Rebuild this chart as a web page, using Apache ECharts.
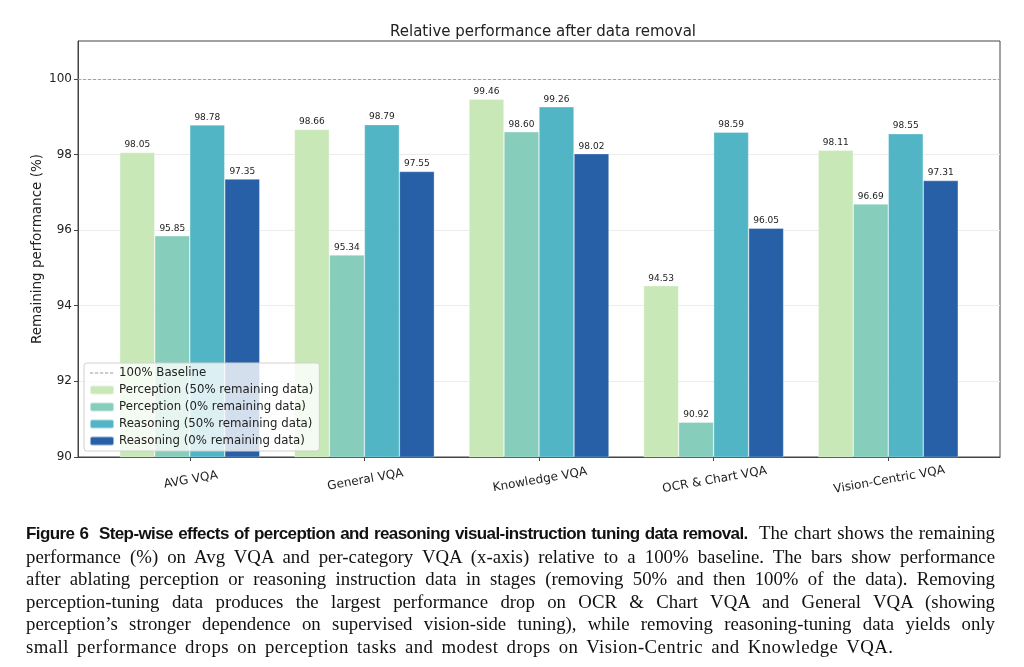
<!DOCTYPE html>
<html>
<head>
<meta charset="utf-8">
<script src="https://cdn.jsdelivr.net/npm/echarts@6/dist/echarts.min.js"></script>
<style>
  html, body { margin: 0; padding: 0; background: #fff; }
  #wrap { position: relative; width: 1024px; height: 667px; overflow: hidden; }
  #chart { position: absolute; left: 0; top: 0; width: 1024px; height: 667px; }
  #caption {
    position: absolute; left: 26px; top: 522px; width: 969px;
    font-family: "Liberation Serif", "DejaVu Serif", serif;
    font-size: 18.8px; line-height: 22.6px; color: #111;
  }
  #caption .ln { white-space: nowrap; text-align: justify; text-align-last: justify; }
  #caption .ln.last { text-align-last: left; letter-spacing: 0.45px; word-spacing: 3px; }
  #caption b {
    font-family: "Liberation Sans", sans-serif;
    font-weight: bold; font-size: 17px; letter-spacing: -0.6px;
  }
</style>
</head>
<body>
<div id="wrap">
  <div id="chart"></div>
  <div id="caption">
    <div class="ln"><b>Figure 6&nbsp;&nbsp;Step-wise effects of perception and reasoning visual-instruction tuning data removal.</b>&nbsp; The chart shows the remaining</div>
    <div class="ln">performance (%) on Avg VQA and per-category VQA (x-axis) relative to a 100% baseline. The bars show performance</div>
    <div class="ln">after ablating perception or reasoning instruction data in stages (removing 50% and then 100% of the data). Removing</div>
    <div class="ln">perception-tuning data produces the largest performance drop on OCR &amp; Chart VQA and General VQA (showing</div>
    <div class="ln">perception’s stronger dependence on supervised vision-side tuning), while removing reasoning-tuning data yields only</div>
    <div class="ln last">small performance drops on perception tasks and modest drops on Vision-Centric and Knowledge VQA.</div>
  </div>
</div>
<script>
// 数据
const categories = ['AVG VQA', 'General VQA', 'Knowledge VQA', 'OCR & Chart VQA', 'Vision-Centric VQA'];
const perception50 = [98.05, 98.66, 99.46, 94.53, 98.11];
const perception0 = [95.85, 95.34, 98.60, 90.92, 96.69];
const reasoning50 = [98.78, 98.79, 99.26, 98.59, 98.55];
const reasoning0 = [97.35, 97.55, 98.02, 96.05, 97.31];
const baseline = 100;
const yTicks = [90, 92, 94, 96, 98, 100];

const seriesNames = [
  'Perception (50% remaining data)',
  'Perception (0% remaining data)',
  'Reasoning (50% remaining data)',
  'Reasoning (0% remaining data)'
];
const seriesValues = [perception50, perception0, reasoning50, reasoning0];
const seriesColors = ['#c9e8b8', '#86cdbb', '#52b5c5', '#2760a6'];

const font = 'DejaVu Sans';
const xPos = categories.map((c, i) => i);

// 图例里的虚线图标（四个角放极小的方块撑开包围盒）
const dashIcon = 'path://M0,0h0.01v0.01h-0.01z M23.99,8.99h0.01v0.01h-0.01z ' +
  'M0,4h3.2v1h-3.2z M5,4h3.2v1h-3.2z M10,4h3.2v1h-3.2z M15,4h3.2v1h-3.2z M20,4h3.2v1h-3.2z';

const chart = echarts.init(document.getElementById('chart'));

const barSeries = seriesNames.map((name, k) => ({
  name: name,
  type: 'bar',
  barWidth: 35,
  barGap: '0%',
  data: seriesValues[k].map((v, i) => [xPos[i], v]),
  itemStyle: { color: seriesColors[k], borderColor: 'rgba(255,255,255,0.5)', borderWidth: 0.6 },
  label: {
    show: true,
    position: 'top',
    distance: 3,
    fontFamily: font,
    fontSize: 9,
    color: '#222',
    formatter: p => p.value[1].toFixed(2)
  },
  z: 2
}));

const option = {
  animation: false,
  title: {
    text: 'Relative performance after data removal',
    left: 538,
    textAlign: 'center',
    top: 20,
    textStyle: { fontFamily: font, fontSize: 15, fontWeight: 'normal', color: '#222' }
  },
  grid: {
    left: 78, right: 24, top: 41, bottom: 210,
    show: true, borderColor: '#444', borderWidth: 1
  },
  legend: {
    orient: 'vertical',
    left: 84,
    top: 363,
    itemWidth: 24,
    itemHeight: 9,
    itemGap: 3,
    itemTextGap: 10,
    padding: [3, 6, 3, 5],
    backgroundColor: 'rgba(255,255,255,0.8)',
    borderColor: '#d0d0d0',
    borderWidth: 1,
    borderRadius: 3,
    textStyle: { fontFamily: font, fontSize: 11.75, lineHeight: 14, color: '#222' },
    data: [{ name: '100% Baseline', icon: dashIcon, itemStyle: { color: '#999' } }].concat(seriesNames)
  },
  xAxis: {
    type: 'value',
    min: -0.64,
    max: 4.64,
    axisLine: { show: true, onZero: false, lineStyle: { color: '#444' } },
    axisTick: { show: true, customValues: xPos, length: 4, lineStyle: { color: '#444' } },
    axisLabel: {
      customValues: xPos,
      rotate: 10,
      align: 'center',
      verticalAlign: 'top',
      margin: 17,
      fontFamily: font,
      fontSize: 12,
      color: '#222',
      formatter: v => categories[Math.round(v)]
    },
    splitLine: { show: false }
  },
  yAxis: {
    type: 'value',
    min: 90,
    max: 101,
    name: 'Remaining performance (%)',
    nameLocation: 'middle',
    nameGap: 34,
    nameMoveOverlap: false,
    nameTextStyle: { fontFamily: font, fontSize: 13.5, color: '#222' },
    axisLine: { show: true, onZero: false, lineStyle: { color: '#444' } },
    axisTick: { show: true, customValues: yTicks, length: 4, lineStyle: { color: '#444' } },
    axisLabel: { customValues: yTicks, fontFamily: font, fontSize: 12, color: '#222', margin: 6 },
    splitLine: { show: true, lineStyle: { color: '#ececec', width: 1 } }
  },
  series: [
    {
      name: '100% Baseline',
      type: 'line',
      data: [],
      symbol: 'none',
      color: '#999',
      lineStyle: { type: 'dashed', color: '#999', width: 1 },
      markLine: {
        silent: true,
        symbol: 'none',
        label: { show: false },
        lineStyle: { type: [3, 2], color: '#a0a0a0', width: 1 },
        data: [{ yAxis: baseline }]
      },
      z: 1
    }
  ].concat(barSeries)
};

chart.setOption(option);
</script>
</body>
</html>
